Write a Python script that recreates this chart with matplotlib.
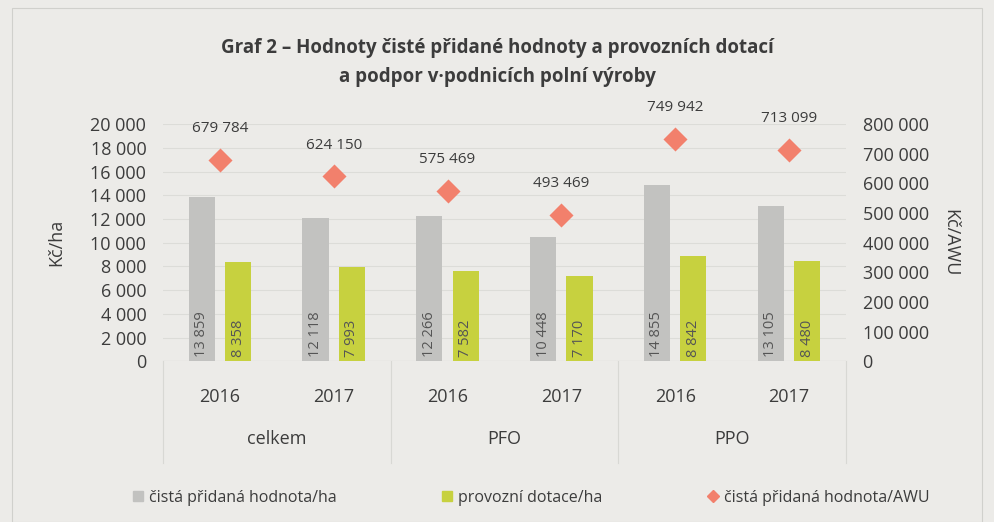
import matplotlib
matplotlib.use("Agg")
import matplotlib.pyplot as plt
from matplotlib.lines import Line2D
import numpy as np

groups = ["celkem", "PFO", "PPO"]
years = ["2016", "2017", "2016", "2017", "2016", "2017"]
cph_ha = [13859, 12118, 12266, 10448, 14855, 13105]
dotace_ha = [8358, 7993, 7582, 7170, 8842, 8480]
cph_awu = [679784, 624150, 575469, 493469, 749942, 713099]
left_ticks = list(range(0, 20001, 2000))
right_ticks = list(range(0, 800001, 100000))
series_names = ["čistá přidaná hodnota/ha", "provozní dotace/ha", "čistá přidaná hodnota/AWU"]

def fmt(v):
    return f"{v:,}".replace(",", " ")

plt.rcParams['font.family'] = ['Open Sans', 'DejaVu Sans']
bg = "#ecebe8"
grey = "#c2c2c0"
green = "#c7d13f"
red = "#f2806c"
txt = "#3c3c3c"

fig = plt.figure(figsize=(9.94, 5.22), dpi=100, facecolor=bg)
ax = fig.add_axes([0.164, 0.308, 0.687, 0.454])
ax.set_facecolor(bg)
ax2 = ax.twinx()

x = np.arange(len(years))
w = 0.23
off = 0.16
ax.bar(x - off, cph_ha, width=w, color=grey, zorder=2)
ax.bar(x + off, dotace_ha, width=w, color=green, zorder=2)
for xi, v in zip(x, cph_ha):
    ax.text(xi - off, 350, fmt(v), rotation=90, ha="center", va="bottom", fontsize=10.5, color="#555555", zorder=3)
for xi, v in zip(x, dotace_ha):
    ax.text(xi + off, 350, fmt(v), rotation=90, ha="center", va="bottom", fontsize=10.5, color="#555555", zorder=3)

ax2.scatter(x, cph_awu, marker="D", s=150, color=red, zorder=4, linewidths=0)
for xi, v in zip(x, cph_awu):
    ax2.annotate(fmt(v), (xi, v), xytext=(0, 17), textcoords="offset points", ha="center",
                 va="bottom", fontsize=11, color=txt)

ax.set_xlim(-0.5, len(years) - 0.5)
ax.set_ylim(0, 20000)
ax2.set_ylim(0, 800000)
ax.set_yticks(left_ticks)
ax.set_yticklabels([fmt(t) for t in left_ticks], fontsize=13, color=txt)
ax2.set_yticks(right_ticks)
ax2.set_yticklabels([fmt(t) for t in right_ticks], fontsize=13, color=txt)
ax.set_xticks(x)
ax.set_xticklabels(years, fontsize=13, color=txt)
for a in (ax, ax2):
    a.tick_params(length=0)
    for s in a.spines.values():
        s.set_visible(False)
ax.tick_params(axis="y", pad=12)
ax2.tick_params(axis="y", pad=12)
ax.tick_params(axis="x", pad=19)
ax.grid(axis="y", color="#dcdcd8", linewidth=0.8, zorder=0)
ax.set_axisbelow(True)
ax.axhline(0, color="#d2d2ce", linewidth=0.8, zorder=1)

for gx in [-0.5, 1.5, 3.5, 5.5]:
    ax.plot([gx, gx], [0, -8600], color="#d8d8d4", linewidth=0.8, clip_on=False)
for i, g in enumerate(groups):
    ax.text(2 * i + 0.5, -6600, g, ha="center", va="center", fontsize=13, color=txt)

ax.set_ylabel("Kč/ha", fontsize=13, color=txt, labelpad=18)
ax2.set_ylabel("Kč/AWU", fontsize=13, color=txt, rotation=270, labelpad=22)

fig.text(0.5, 0.88, "Graf 2 – Hodnoty čisté přidané hodnoty a provozních dotací\na podpor v·podnicích polní výroby",
         ha="center", va="center", fontsize=13.5, fontweight="bold", color=txt, linespacing=1.6)

handles = [Line2D([], [], marker="s", linestyle="none", color=grey, markersize=7),
           Line2D([], [], marker="s", linestyle="none", color=green, markersize=7),
           Line2D([], [], marker="D", linestyle="none", color=red, markersize=6)]
leg = fig.legend(handles, series_names, loc="center", bbox_to_anchor=(0.533, 0.046), ncol=3, frameon=False,
                 fontsize=11.5, handletextpad=0.2, columnspacing=6.4, handlelength=1.0)
for t in leg.get_texts():
    t.set_color(txt)

fig.patches.append(plt.Rectangle((0.012, 0.0), 0.976, 0.985, transform=fig.transFigure,
                                 fill=False, edgecolor="#d0d0cc", linewidth=0.8))

fig.savefig("out.png", dpi=100, facecolor=bg)
